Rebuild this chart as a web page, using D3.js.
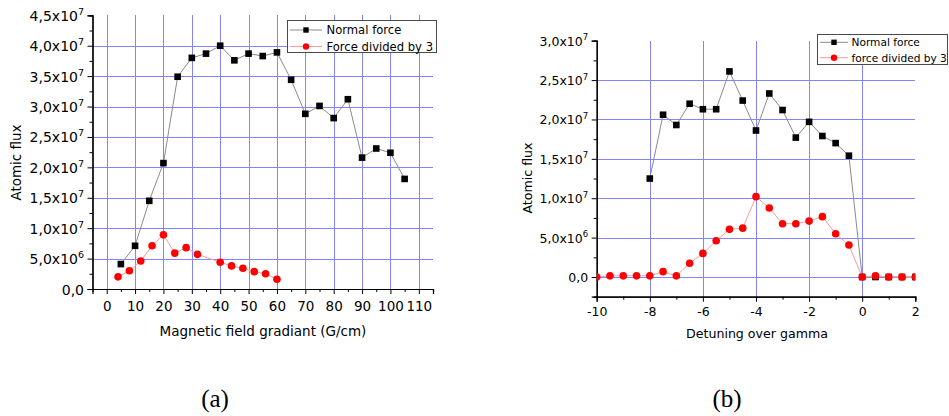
<!DOCTYPE html>
<html>
<head>
<meta charset="utf-8">
<script src="https://cdn.jsdelivr.net/npm/d3@7/dist/d3.min.js"></script>
<style>
  html, body { margin: 0; padding: 0; background: #fff; }
  svg { display: block; }
  text { fill: #000; }
</style>
</head>
<body>
<svg id="chart" width="949" height="416" font-family="DejaVu Sans, sans-serif"></svg>
<script>
// ---------- Data: panel (a) ----------
const gradientNormal = [5, 10, 15, 20, 25, 30, 35, 40, 45, 50, 55, 60, 65, 70, 75, 80, 85, 90, 95, 100, 105];
const fluxNormalA = [4.1e6, 7.1e6, 1.45e7, 2.07e7, 3.49e7, 3.80e7, 3.87e7, 4.0e7, 3.76e7, 3.87e7, 3.83e7, 3.89e7,
                     3.44e7, 2.88e7, 3.01e7, 2.81e7, 3.12e7, 2.16e7, 2.31e7, 2.24e7, 1.81e7];
const gradientDivided = [4, 8, 12, 16, 20, 24, 28, 32, 40, 44, 48, 52, 56, 60];
const fluxDividedA = [2.0e6, 3.0e6, 4.6e6, 7.1e6, 8.9e6, 5.9e6, 6.8e6, 5.7e6, 4.4e6, 3.8e6, 3.4e6, 2.85e6, 2.5e6, 1.6e6];
const xTicksA = [0, 10, 20, 30, 40, 50, 60, 70, 80, 90, 100, 110];
const xMinorA = [5, 15, 25, 35, 45, 55, 65, 75, 85, 95, 105];
const yTicksA = [0, 5e6, 1e7, 1.5e7, 2e7, 2.5e7, 3e7, 3.5e7, 4e7, 4.5e7];
const yMinorA = [2.5e6, 7.5e6, 1.25e7, 1.75e7, 2.25e7, 2.75e7, 3.25e7, 3.75e7, 4.25e7];
const legendA = ["Normal force", "Force divided by 3"];

// ---------- Data: panel (b) ----------
const detuningNormal = [-8, -7.5, -7, -6.5, -6, -5.5, -5, -4.5, -4, -3.5, -3, -2.5, -2, -1.5, -1, -0.5, 0, 0.5, 1, 1.5, 2];
const fluxNormalB = [1.25e7, 2.06e7, 1.93e7, 2.20e7, 2.13e7, 2.13e7, 2.61e7, 2.24e7, 1.86e7, 2.33e7, 2.12e7, 1.77e7,
                     1.97e7, 1.79e7, 1.70e7, 1.54e7, 0, 0, 0, 0, 0];
const detuningDivided = [-10, -9.5, -9, -8.5, -8, -7.5, -7, -6.5, -6, -5.5, -5, -4.5, -4, -3.5, -3, -2.5, -2, -1.5, -1, -0.5, 0, 0.5, 1, 1.5, 2];
const fluxDividedB = [0, 1.5e5, 1.5e5, 1.5e5, 1.5e5, 6.8e5, 1.5e5, 1.74e6, 3.0e6, 4.6e6, 6.05e6, 6.2e6, 1.02e7, 8.76e6,
                      6.77e6, 6.77e6, 7.1e6, 7.66e6, 5.5e6, 4.06e6, 0, 1.5e5, 0, 0, 0];
const xTicksB = [-10, -8, -6, -4, -2, 0, 2];
const xMinorB = [-9, -7, -5, -3, -1, 1];
const yTicksB = [0, 5e6, 1e7, 1.5e7, 2e7, 2.5e7, 3e7];
const yMinorB = [-2.5e6, 2.5e6, 7.5e6, 1.25e7, 1.75e7, 2.25e7, 2.75e7];
const legendB = ["Normal force", "force divided by 3"];

const captions = ["(a)", "(b)"];

// ---------- Styles ----------
const GRID = "#8484ff";
const BLACK_LINE = "#8a8a8a";
const RED_LINE = "#ff9a9a";
const RED = "#ff0000";

const svg = d3.select("#chart");
svg.append("rect").attr("width", 949).attr("height", 416).attr("fill", "#fff");

function sciParts(v) {
  if (v === 0) return ["0,0", null];
  const e = Math.floor(Math.log10(Math.abs(v)) + 1e-9);
  const m = v / Math.pow(10, e);
  return [m.toFixed(1).replace(".", ",") + "x10", String(e)];
}

function panel(cfg) {
  const g = svg.append("g");
  const x = d3.scaleLinear().domain(cfg.xDomain).range([cfg.left, cfg.right]);
  const y = d3.scaleLinear().domain(cfg.yDomain).range([cfg.bottom, cfg.top]);

  const clipId = "clip-" + cfg.id;
  svg.append("clipPath").attr("id", clipId).append("rect")
    .attr("x", cfg.left).attr("y", cfg.top - 5)
    .attr("width", cfg.right - cfg.left).attr("height", cfg.bottom - cfg.top + 5);

  // grid
  const grid = g.append("g").attr("stroke", GRID).attr("stroke-width", 1).attr("shape-rendering", "crispEdges");
  grid.selectAll("line.v").data(cfg.xGrid).join("line")
    .attr("x1", d => Math.round(x(d)) + 0.5).attr("x2", d => Math.round(x(d)) + 0.5)
    .attr("y1", cfg.top).attr("y2", cfg.bottom);
  grid.selectAll("line.h").data(cfg.yGrid).join("line")
    .attr("class", "h")
    .attr("x1", cfg.left).attr("x2", cfg.right)
    .attr("y1", d => Math.round(y(d)) + 0.5).attr("y2", d => Math.round(y(d)) + 0.5);

  // axes
  const xAxis = d3.axisBottom(x).tickValues(cfg.xTicks).tickSize(5).tickFormat(d => String(d));
  const xAxisMinor = d3.axisBottom(x).tickValues(cfg.xMinor).tickSize(3).tickFormat("");
  const yAxis = d3.axisLeft(y).tickValues(cfg.yTicks).tickSize(5).tickFormat("");
  const yAxisMinor = d3.axisLeft(y).tickValues(cfg.yMinor).tickSize(3).tickFormat("");

  const gx = g.append("g").attr("transform", `translate(0,${cfg.bottom})`).call(xAxis);
  g.append("g").attr("transform", `translate(0,${cfg.bottom})`).call(xAxisMinor);
  const gy = g.append("g").attr("transform", `translate(${cfg.left},0)`).call(yAxis);
  g.append("g").attr("transform", `translate(${cfg.left},0)`).call(yAxisMinor);
  g.selectAll(".domain").attr("stroke", "#000").attr("stroke-width", 1.2);
  g.selectAll(".tick line").attr("stroke", "#000").attr("stroke-width", 1);
  gx.selectAll(".tick text")
    .attr("font-family", "DejaVu Sans").attr("font-size", cfg.xTickFont)
    .attr("y", cfg.xTickY).attr("dy", 0).attr("fill", "#000");

  gy.selectAll(".tick").each(function(d) {
    const [main, exp] = sciParts(d);
    const t = d3.select(this).append("text")
      .attr("x", -8.5).attr("y", cfg.yTickDy)
      .attr("text-anchor", "end")
      .attr("font-family", "DejaVu Sans")
      .attr("font-size", cfg.yTickFont)
      .attr("fill", "#000");
    t.append("tspan").text(main);
    if (exp) {
      t.append("tspan").attr("dy", -cfg.supRise).attr("font-size", cfg.supFont).text(exp);
    }
  });

  // series
  const plot = g.append("g").attr("clip-path", `url(#${clipId})`);
  cfg.series.forEach(s => {
    const pts = s.xs.map((xv, i) => [xv, s.ys[i]]);
    plot.append("path").datum(pts)
      .attr("fill", "none").attr("stroke", s.lineColor).attr("stroke-width", 1)
      .attr("d", d3.line().x(d => x(d[0])).y(d => y(d[1])));
    if (s.shape === "square") {
      plot.selectAll(null).data(pts).join("rect")
        .attr("x", d => x(d[0]) - 3.3).attr("y", d => y(d[1]) - 3.3)
        .attr("width", 6.6).attr("height", 6.6).attr("fill", "#000");
    } else {
      plot.selectAll(null).data(pts).join("circle")
        .attr("cx", d => x(d[0])).attr("cy", d => y(d[1])).attr("r", 3.8).attr("fill", RED);
    }
  });

  // axis titles
  g.append("text").attr("x", cfg.xTitleX).attr("y", cfg.xTitleY)
    .attr("text-anchor", "middle").attr("font-size", cfg.titleFont).text(cfg.xTitle);
  g.append("text").attr("transform", `translate(${cfg.yTitleX},${cfg.yTitleY}) rotate(-90)`)
    .attr("text-anchor", "middle").attr("font-size", cfg.titleFont).text(cfg.yTitle);

  // legend
  const L = cfg.legend;
  const lg = g.append("g");
  lg.append("rect").attr("x", L.x + 0.5).attr("y", L.y + 0.5).attr("width", L.w).attr("height", L.h)
    .attr("fill", "#fff").attr("stroke", "#4a4a4a").attr("stroke-width", 1);
  cfg.series.forEach((s, i) => {
    const ry = L.rows[i];
    lg.append("line").attr("x1", L.lx1).attr("x2", L.lx2).attr("y1", ry).attr("y2", ry)
      .attr("stroke", s.lineColor).attr("stroke-width", 1);
    const mx = (L.lx1 + L.lx2) / 2;
    if (s.shape === "square") {
      lg.append("rect").attr("x", mx - 2.7).attr("y", ry - 2.7).attr("width", 5.4).attr("height", 5.4).attr("fill", "#000");
    } else {
      lg.append("circle").attr("cx", mx).attr("cy", ry).attr("r", 3.2).attr("fill", RED);
    }
    lg.append("text").attr("x", L.tx).attr("y", ry + L.font * 0.36)
      .attr("font-size", L.font).text(cfg.legendLabels[i]);
  });

  // caption
  svg.append("text").attr("x", cfg.capX).attr("y", 407).attr("text-anchor", "middle")
    .style("font-family", "'Liberation Serif', 'DejaVu Serif', serif").attr("font-size", 25).text(cfg.caption);
}

panel({
  id: "a",
  left: 92.5, right: 433, top: 15.3, bottom: 289,
  xDomain: [-5, 115], yDomain: [0, 4.5e7],
  xTicks: xTicksA, xMinor: xMinorA, yTicks: yTicksA, yMinor: yMinorA,
  xGrid: xTicksA, yGrid: yTicksA.filter(v => v > 0 && v < 4.5e7),
  xTickFont: 13.5, xTickY: 21.5, yTickFont: 14, yTickDy: 5, supFont: 9.5, supRise: 6,
  titleFont: 13.5,
  xTitle: "Magnetic field gradiant (G/cm)", xTitleX: 263, xTitleY: 335.5,
  yTitle: "Atomic flux", yTitleX: 21, yTitleY: 162.5,
  series: [
    { xs: gradientNormal, ys: fluxNormalA, shape: "square", lineColor: BLACK_LINE },
    { xs: gradientDivided, ys: fluxDividedA, shape: "circle", lineColor: RED_LINE }
  ],
  legendLabels: legendA,
  legend: { x: 287, y: 20, w: 149, h: 32, rows: [30, 46.5], lx1: 290, lx2: 322, tx: 326.5, font: 11.6 },
  caption: captions[0], capX: 215
});

panel({
  id: "b",
  left: 596.7, right: 915.3, top: 40.7, bottom: 296.7,
  xDomain: [-10, 2], yDomain: [-2.5e6, 3e7],
  xTicks: xTicksB, xMinor: xMinorB, yTicks: yTicksB, yMinor: yMinorB,
  xGrid: [-8, -6, -4, -2, 0], yGrid: yTicksB.filter(v => v < 3e7),
  xTickFont: 12.5, xTickY: 19, yTickFont: 12.5, yTickDy: 4.5, supFont: 8.5, supRise: 5.5,
  titleFont: 12.6,
  xTitle: "Detuning over gamma", xTitleX: 757, xTitleY: 337.6,
  yTitle: "Atomic flux", yTitleX: 531.5, yTitleY: 178,
  series: [
    { xs: detuningNormal, ys: fluxNormalB, shape: "square", lineColor: BLACK_LINE },
    { xs: detuningDivided, ys: fluxDividedB, shape: "circle", lineColor: RED_LINE }
  ],
  legendLabels: legendB,
  legend: { x: 817, y: 34, w: 130, h: 30, rows: [42.3, 57.7], lx1: 820, lx2: 848, tx: 851.5, font: 10.6 },
  caption: captions[1], capX: 727
});
</script>
</body>
</html>
